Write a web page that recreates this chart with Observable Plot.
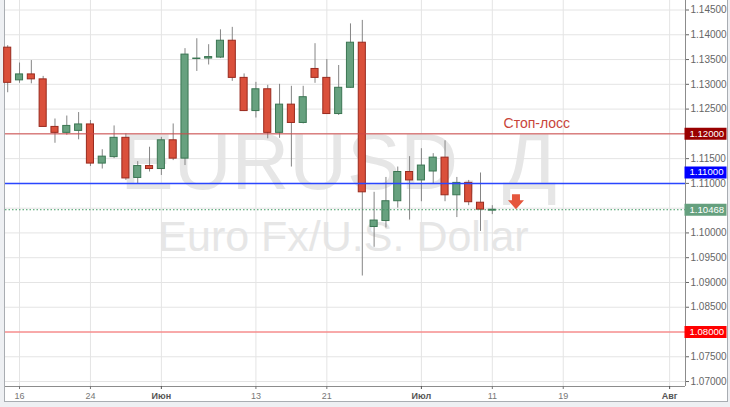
<!DOCTYPE html>
<html><head><meta charset="utf-8">
<script src="https://cdn.jsdelivr.net/npm/d3@7"></script>
<script src="https://cdn.jsdelivr.net/npm/@observablehq/plot@0.6"></script>
<style>
html,body{margin:0;padding:0;background:#eef0f3;width:730px;height:407px;overflow:hidden;}
#wrap{position:absolute;left:4px;top:0;width:722px;height:401px;background:#fff;border:1px solid #a9adb2;border-top:none;}
svg{display:block;}
</style></head><body><div id="wrap"></div>
<script>
const dates = ["2016-05-13","2016-05-16","2016-05-17","2016-05-18","2016-05-19","2016-05-20","2016-05-23","2016-05-24","2016-05-25","2016-05-26","2016-05-27","2016-05-30","2016-05-31",
"2016-06-01","2016-06-02","2016-06-03","2016-06-06","2016-06-07","2016-06-08","2016-06-09","2016-06-10","2016-06-13","2016-06-14","2016-06-15","2016-06-16","2016-06-17","2016-06-20","2016-06-21","2016-06-22","2016-06-23","2016-06-24","2016-06-27","2016-06-28","2016-06-29","2016-06-30",
"2016-07-01","2016-07-04","2016-07-05","2016-07-06","2016-07-07","2016-07-08","2016-07-11"];
const opens  = [1.1374,1.1308,1.1320,1.1310,1.1214,1.1202,1.1206,1.1219,1.1140,1.1153,1.1192,1.1111,1.1135,
1.1129,1.1187,1.1150,1.1351,1.1352,1.1354,1.1388,1.1313,1.1246,1.1290,1.1202,1.1259,1.1222,1.1331,1.1313,1.1240,1.1293,1.1384,1.1012,1.1024,1.1064,1.1123,
1.1106,1.1124,1.1152,1.1076,1.1101,1.1061,1.1045];
const highs  = [1.1378,1.1343,1.1348,1.1316,1.1230,1.1236,1.1243,1.1227,1.1168,1.1216,1.1200,1.1144,1.1173,
1.1193,1.1220,1.1372,1.1392,1.1380,1.1410,1.1415,1.1321,1.1304,1.1298,1.1300,1.1296,1.1296,1.1382,1.1350,1.1338,1.1422,1.1429,1.1082,1.1112,1.1133,1.1154,
1.1170,1.1160,1.1186,1.1112,1.1106,1.1121,1.1055];
const lows   = [1.1283,1.1302,1.1301,1.1214,1.1181,1.1197,1.1188,1.1134,1.1129,1.1150,1.1106,1.1099,1.1123,
1.1116,1.1146,1.1136,1.1326,1.1339,1.1352,1.1306,1.1245,1.1232,1.1190,1.1191,1.1133,1.1220,1.1302,1.1240,1.1237,1.1292,1.0913,1.0971,1.1010,1.1050,1.1026,
1.1063,1.1099,1.1063,1.1031,1.1055,1.1003,1.1037];
const closes = [1.1303,1.1320,1.1310,1.1214,1.1202,1.1216,1.1219,1.1140,1.1154,1.1192,1.1110,1.1135,1.1129,
1.1187,1.1150,1.1360,1.1352,1.1355,1.1388,1.1313,1.1246,1.1290,1.1202,1.1259,1.1222,1.1274,1.1313,1.1240,1.1293,1.1384,1.1082,1.1025,1.1064,1.1123,1.1106,
1.1136,1.1152,1.1076,1.1101,1.1062,1.1047,1.10468];

const xTickDates  = ["2016-05-16","2016-05-24","2016-06-01","2016-06-13","2016-06-21","2016-07-01","2016-07-11","2016-07-19","2016-08-01"];
const xTickLabels = ["16","24","Июн","13","21","Июл","11","19","Авг"];
const monthTickLabels = ["Июн","Июл","Авг"];
const yTickValues = [1.070,1.075,1.080,1.085,1.090,1.095,1.100,1.105,1.110,1.115,1.120,1.125,1.130,1.135,1.140,1.145];

const levelValues = [1.12, 1.11, 1.10468, 1.08];
const levelLabels = ["1.12000","1.11000","1.10468","1.08000"];
const levelLineColors = ["#d04848","#2a46ff","#3f9a62","#ff6262"];
const levelLineWidths = [1, 1.5, 1, 1];
const levelBoxColors  = ["#990000","#0000ff","#65a07e","#ff0000"];
const stopLossText = "Стоп-лосс";
const stopLossLevel = 1.12;
const arrowDate = "2016-07-13";
const arrowPrice = 1.1062;
const watermarkTitle = "EURUSD, Д";
const watermarkSub = "Euro Fx/U.S. Dollar";

const t0 = new Date(dates[0] + "T00:00:00Z");
function tradingIndex(s) {
  const t = new Date(s + "T00:00:00Z");
  return d3.utcDays(t0, t).filter(d => d.getUTCDay() !== 0 && d.getUTCDay() !== 6).length;
}
const candles = dates.map((d, k) => ({i: tradingIndex(d), open: opens[k], high: highs[k], low: lows[k], close: closes[k]}));
const xTickIdx = xTickDates.map(tradingIndex);
const labelByIdx = new Map(xTickIdx.map((v, k) => [v, xTickLabels[k]]));
const dayIdx = xTickIdx.filter(v => !monthTickLabels.includes(labelByIdx.get(v)));
const monthIdx = xTickIdx.filter(v => monthTickLabels.includes(labelByIdx.get(v)));
const levels = levelValues.map((v, k) => ({value: v, label: levelLabels[k], line: levelLineColors[k], width: levelLineWidths[k], box: levelBoxColors[k]}));

const xDomain = [-0.186, 57.343];
const yDomain = [1.0690, 1.14692];
const up = d => d.close >= d.open;

const arrowSymbol = {draw(ctx) {
  ctx.moveTo(-4,-8); ctx.lineTo(4,-8); ctx.lineTo(4,-2); ctx.lineTo(8,-2);
  ctx.lineTo(0,7); ctx.lineTo(-8,-2); ctx.lineTo(-4,-2); ctx.closePath();
}};
const boxSymbol = {draw(ctx) {
  ctx.moveTo(-1,-6); ctx.lineTo(41,-6); ctx.lineTo(41,6); ctx.lineTo(-1,6); ctx.closePath();
}};

const mainLevels = levels.filter(d => d.value !== 1.11);
const blueLevel = levels.filter(d => d.value === 1.11);

const svg = Plot.plot({
  width: 722, height: 401,
  marginTop: 0, marginLeft: 0, marginRight: 42, marginBottom: 15,
  x: {type: "linear", domain: xDomain, label: null},
  y: {domain: yDomain, label: null},
  color: {type: "identity"},
  style: {fontFamily: "'Liberation Sans', Arial, sans-serif", fontSize: "10px", background: "transparent", overflow: "visible"},
  marks: [
    Plot.text([watermarkTitle], {text: d => d, frameAnchor: "middle", dx: -7, dy: -30, fontSize: 80, fill: "#e6e6e6", lineAnchor: "middle"}),
    Plot.text([watermarkSub], {text: d => d, frameAnchor: "middle", dx: -2, dy: 44, fontSize: 43, fill: "#e6e6e6", lineAnchor: "middle"}),
    Plot.gridY(yTickValues, {stroke: "#e4e4e4", strokeOpacity: 1}),
    Plot.gridX(xTickIdx, {stroke: "#e4e4e4", strokeOpacity: 1}),
    Plot.ruleX(candles, {x: "i", y1: "low", y2: "high", stroke: "#858585"}),
    Plot.rect(candles, {x1: d => d.i - 0.3, x2: d => d.i + 0.3, y1: "open", y2: "close",
      fill: d => up(d) ? "#67a17f" : "#da503b", stroke: d => up(d) ? "#3a7552" : "#992a1e", strokeWidth: 1}),
    ...levels.map(d => Plot.ruleY([d.value], {stroke: d.line, strokeOpacity: 1, strokeWidth: d.width, strokeDasharray: d.value === 1.10468 ? "1.5,2" : null})),
    Plot.text([{i: tradingIndex(arrowDate) - 1.05, y: stopLossLevel, t: stopLossText}], {x: "i", y: "y", text: "t", dy: -10, textAnchor: "start", fontSize: 14, fill: "#c8443a"}),
    Plot.dot([{i: tradingIndex(arrowDate), y: arrowPrice}], {x: "i", y: "y", symbol: arrowSymbol, r: 8, fill: "#e5563d", stroke: "none"}),
    Plot.ruleX([xDomain[1]], {stroke: "#8c8c8c"}),
    Plot.ruleY([yDomain[0]], {stroke: "#8c8c8c"}),
    Plot.axisY(yTickValues.filter(v => v !== 1.12 && v !== 1.08 && v !== 1.105), {anchor: "right", tickFormat: d3.format(".5f"), tickSize: 3, tickPadding: 2, fontSize: 10, color: "#666", label: null}),
    Plot.axisX(dayIdx, {tickFormat: v => labelByIdx.get(v), tickSize: 3, tickPadding: 3, fontSize: 9, color: "#777", label: null}),
    Plot.axisX(monthIdx, {tickFormat: v => labelByIdx.get(v), tickSize: 3, tickPadding: 3, fontSize: 9, color: "#555", fontWeight: "bold", label: null}),
    Plot.dot(mainLevels, {x: xDomain[1], y: "value", symbol: boxSymbol, r: 5, fill: "box", stroke: "none"}),
    Plot.dot(blueLevel, {x: xDomain[1], y: "value", dy: -11, symbol: boxSymbol, r: 5, fill: "box", stroke: "none"}),
    Plot.text(mainLevels, {x: xDomain[1], y: "value", text: "label", dx: 4, textAnchor: "start", fill: "white", fontSize: 9.6}),
    Plot.text(blueLevel, {x: xDomain[1], y: "value", text: "label", dx: 4, dy: -11, textAnchor: "start", fill: "white", fontSize: 9.6})
  ]
});
document.getElementById("wrap").appendChild(svg);
</script></body></html>
